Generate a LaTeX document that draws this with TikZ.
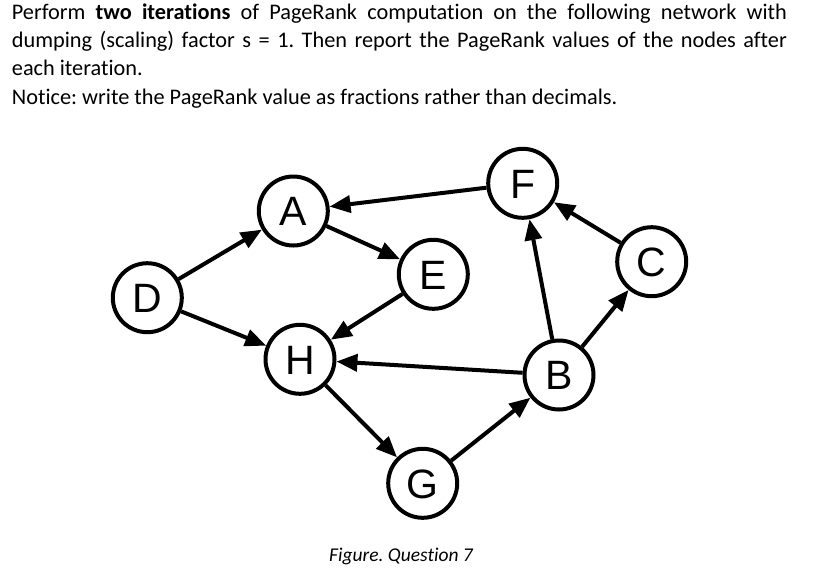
\documentclass[tikz,border=0pt]{standalone}
\usepackage{fontspec}
\setmainfont[Ligatures=NoCommon]{Carlito}
\newfontfamily\arialfont{Liberation Sans}
\usetikzlibrary{arrows.meta}
\tikzset{
  vert/.style={circle, draw, line width=4pt, minimum size=69pt, inner sep=0pt, fill=white,
    font=\arialfont\fontsize{41}{41}\selectfont, text height=29.4pt, text depth=0pt},
  edge/.style={line width=4pt, -{Triangle[length=21pt,width=17pt]}}
}
\frenchspacing
\begin{document}
\begin{tikzpicture}[x=1pt,y=1pt]
\useasboundingbox (0,0) rectangle (816,-582);
\node[inner sep=0pt, anchor=base west] (q) at (11.7,-19.3) {\parbox[t]{775pt}{\fontsize{22.3}{28.3}\selectfont\setlength\parindent{0pt}%
Perform \textbf{two iterations} of PageRank computation on the following network with\linebreak dumping (scaling) factor s = 1. Then report the PageRank values of the nodes after\linebreak each iteration.\par
Notice: write the PageRank value as fractions rather than decimals.}};
\node[vert] (A) at (293.3,-211) {A};
\node[vert] (D) at (147.3,-297.7) {D};
\node[vert] (H) at (300,-359.3) {H};
\node[vert] (E) at (433.3,-274.3) {E};
\node[vert] (F) at (522.7,-183.3) {F};
\node[vert] (C) at (651.7,-261.7) {C};
\node[vert] (B) at (559,-375) {B};
\node[vert] (G) at (422.7,-483.3) {G};
\draw[edge] (F) -- (A);
\draw[edge] (D) -- (A);
\draw[edge] (A) -- (E);
\draw[edge] (D) -- (H);
\draw[edge] (E) -- (H);
\draw[edge] (B) -- (H);
\draw[edge] (H) -- (G);
\draw[edge] (G) -- (B);
\draw[edge] (B) -- (F);
\draw[edge] (B) -- (C);
\draw[edge] (C) -- (F);
\node[font=\fontsize{19.5}{22}\selectfont\itshape] (cap) at (401,-556) {Figure. Question 7};
\end{tikzpicture}
\end{document}
